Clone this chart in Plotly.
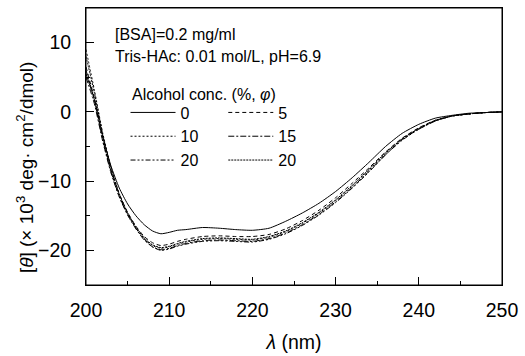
import plotly.graph_objects as go

wavelength = [200, 201, 202, 203, 204, 205, 206, 207, 208, 209, 210, 211, 212, 214, 216, 218,
              220, 222, 224, 226, 228, 230, 232, 234, 236, 238, 240, 242, 244, 246, 248, 250]

conc_0 = [5.5, 1.8, -3.5, -7.8, -11.0, -13.3, -15.0, -16.3, -17.2, -17.6, -17.4, -17.1, -17.0, -16.7, -16.8, -17.0,
          -17.1, -16.8, -15.8, -14.6, -13.2, -11.5, -9.5, -7.3, -5.0, -3.1, -1.8, -0.9, -0.5, -0.2, -0.1, 0.0]
conc_5 = [6.5, 2.0, -3.6, -8.3, -11.9, -14.5, -16.5, -18.0, -18.9, -19.3, -19.1, -18.7, -18.4, -18.0, -17.9, -18.0,
          -18.0, -17.7, -16.9, -15.7, -14.2, -12.4, -10.3, -8.1, -5.8, -3.8, -2.3, -1.2, -0.6, -0.3, -0.1, 0.0]
conc_10 = [9.0, 3.2, -3.0, -8.0, -11.8, -14.6, -16.7, -18.3, -19.3, -19.7, -19.5, -19.1, -18.8, -18.4, -18.3, -18.4,
           -18.5, -18.1, -17.3, -16.1, -14.6, -12.8, -10.7, -8.4, -6.0, -3.9, -2.4, -1.3, -0.6, -0.3, -0.1, 0.0]
conc_15 = [5.0, 1.2, -4.2, -8.8, -12.3, -14.9, -16.9, -18.5, -19.5, -19.9, -19.7, -19.3, -19.0, -18.6, -18.5, -18.6,
           -18.7, -18.3, -17.5, -16.3, -14.8, -13.0, -10.9, -8.6, -6.2, -4.0, -2.5, -1.3, -0.6, -0.3, -0.1, 0.0]
conc_20a = [6.0, 1.8, -3.9, -8.6, -12.2, -14.8, -16.8, -18.4, -19.5, -20.0, -19.8, -19.4, -19.1, -18.7, -18.6, -18.7,
            -18.8, -18.4, -17.6, -16.4, -14.9, -13.1, -11.0, -8.7, -6.2, -4.1, -2.5, -1.3, -0.6, -0.3, -0.1, 0.0]
conc_20b = [8.0, 2.8, -3.2, -8.1, -11.9, -14.6, -16.6, -18.2, -19.2, -19.6, -19.4, -19.0, -18.7, -18.3, -18.2, -18.3,
            -18.4, -18.0, -17.2, -16.0, -14.5, -12.7, -10.6, -8.3, -5.9, -3.9, -2.4, -1.2, -0.6, -0.3, -0.1, 0.0]

labels = ["0", "10", "20", "5", "15", "20"]
series = [conc_0, conc_10, conc_20a, conc_5, conc_15, conc_20b]
dashes = ["solid", "2px,2px", "5px,2px,2px,2px,2px,2px", "4px,3px", "6px,2px,2px,2px", "2px,1px"]
legends = ["legend", "legend", "legend", "legend2", "legend2", "legend2"]

FONT = "Liberation Sans, Arial, sans-serif"

fig = go.Figure()
for lab, ys, d, lg in zip(labels, series, dashes, legends):
    fig.add_trace(go.Scatter(
        x=wavelength, y=ys, mode="lines", name=lab, legend=lg,
        line=dict(color="black", width=1, dash=d, shape="spline", smoothing=0.6),
    ))

axis_common = dict(
    showline=True, linecolor="black", linewidth=1, mirror=True,
    ticks="inside", ticklen=8, tickcolor="black", tickwidth=1,
    showgrid=False, zeroline=False, ticklabeloverflow="allow",
    tickfont=dict(family=FONT, size=19.5, color="black"),
    minor=dict(ticks="inside", ticklen=4, tickcolor="black", tickwidth=1, showgrid=False),
)

fig.update_xaxes(range=[200, 250], dtick=10, tick0=200,
                 minor_dtick=5, ticklabelstandoff=8,
                 title=dict(text="<i>λ</i> (nm)", font=dict(family=FONT, size=19.5, color="black"), standoff=14),
                 **axis_common)
fig.update_yaxes(range=[-25, 15], dtick=10, tick0=0,
                 minor_dtick=5, ticklabelstandoff=10,
                 **axis_common)

# plot frame (box around the plotting area)
fig.add_shape(type="rect", xref="paper", yref="paper", x0=0, y0=0, x1=1, y1=1,
              line=dict(color="black", width=1), fillcolor="rgba(0,0,0,0)", layer="above")

legend_common = dict(
    font=dict(family=FONT, size=16, color="black"),
    bgcolor="rgba(0,0,0,0)", borderwidth=0,
    xanchor="left", yanchor="top", tracegroupgap=0,
    itemwidth=45,
)
fig.update_layout(
    legend=dict(x=0.095, y=0.684, **legend_common),
    legend2=dict(x=0.33, y=0.684, **legend_common),
)

fig.add_annotation(text="[BSA]=0.2 mg/ml", xref="paper", yref="paper", x=0.064, y=0.905,
                   xanchor="left", yanchor="middle", showarrow=False,
                   font=dict(family=FONT, size=16, color="black"))
fig.add_annotation(text="Tris-HAc: 0.01 mol/L, pH=6.9", xref="paper", yref="paper", x=0.064, y=0.825,
                   xanchor="left", yanchor="middle", showarrow=False,
                   font=dict(family=FONT, size=16, color="black"))
fig.add_annotation(text="Alcohol conc. (%, <i>φ</i>)", xref="paper", yref="paper", x=0.106, y=0.687,
                   xanchor="left", yanchor="middle", showarrow=False,
                   font=dict(family=FONT, size=16, color="black"))
fig.add_annotation(text="[<i>θ</i>] (× 10<sup>3</sup> deg· cm<sup>2</sup>/dmol)", xref="paper", yref="paper",
                   x=-0.147, y=0.425, xanchor="center", yanchor="middle", textangle=-90, showarrow=False,
                   font=dict(family=FONT, size=19, color="black"))

fig.update_layout(
    width=525, height=356,
    margin=dict(l=86, r=16, t=7, b=67),
    paper_bgcolor="white", plot_bgcolor="white",
    showlegend=True,
)

fig.write_html("out.html")
